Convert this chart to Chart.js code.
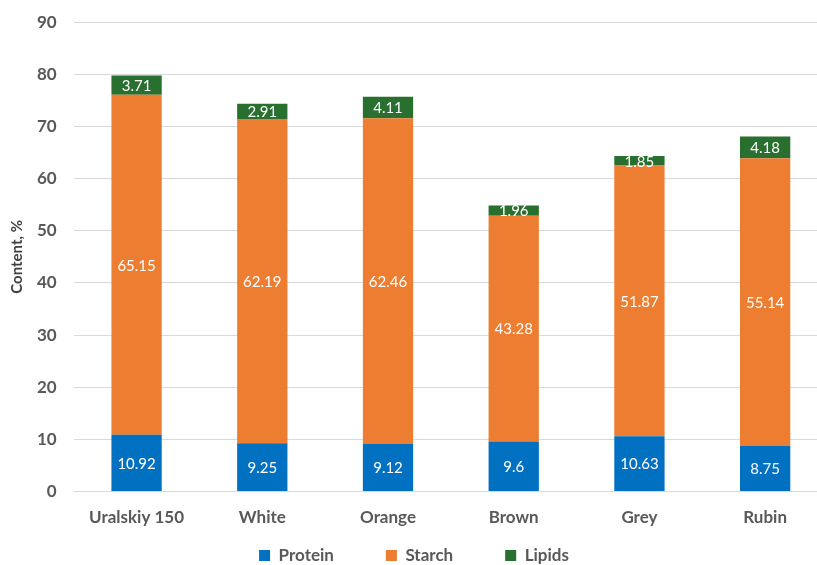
<!DOCTYPE html>
<html>
<head>
<meta charset="utf-8">
<script src="https://cdn.jsdelivr.net/npm/chart.js@4"></script>
<style>
  html, body { margin: 0; padding: 0; background: #fff; overflow: hidden; }
  #wrap { width: 828px; height: 565px; }
</style>
</head>
<body>
<div id="wrap"><canvas id="chart"></canvas></div>
<script>
// --- chart data ---
const varieties = ['Uralskiy 150', 'White', 'Orange', 'Brown', 'Grey', 'Rubin'];
const protein = [10.92, 9.25, 9.12, 9.6, 10.63, 8.75];
const starch = [65.15, 62.19, 62.46, 43.28, 51.87, 55.14];
const lipids = [3.71, 2.91, 4.11, 1.96, 1.85, 4.18];

const FONT = 'Lato, "Open Sans", sans-serif';
const GREY = '#595959';

// legend item spacing is wide, but the legend itself should stay a thin strip
const LEGEND_PAD = 52;
const LEGEND_H = 29;
const LEGEND_SHIFT = 41;

const legendStrip = {
    id: 'legendStrip',
    beforeUpdate(chart) {
        const lg = chart.legend;
        if (!lg || lg._strip) return;
        lg._strip = true;
        const fit = lg.fit;
        const draw = lg.draw;
        lg.fit = function () {
            fit.call(this);
            this.height = LEGEND_H;
        };
        lg.draw = function () {
            const top = this.top;
            this.top -= LEGEND_SHIFT;
            draw.call(this);
            this.top = top;
        };
    }
};

// white value labels in the middle of each segment
const segmentLabels = {
    id: 'segmentLabels',
    afterDatasetsDraw(chart) {
        const ctx = chart.ctx;
        ctx.save();
        ctx.fillStyle = '#fff';
        ctx.font = '15px ' + FONT;
        ctx.textAlign = 'center';
        ctx.textBaseline = 'middle';
        chart.data.datasets.forEach((ds, i) => {
            const meta = chart.getDatasetMeta(i);
            meta.data.forEach((bar, j) => {
                const y = (bar.y + bar.base) / 2;
                ctx.fillText(String(ds.data[j]), bar.x, y + 1);
            });
        });
        ctx.restore();
    }
};

new Chart(document.getElementById('chart'), {
    type: 'bar',
    data: {
        labels: varieties,
        datasets: [
            { label: 'Protein', data: protein, backgroundColor: '#0070c0' },
            { label: 'Starch', data: starch, backgroundColor: '#ed7d31' },
            { label: 'Lipids', data: lipids, backgroundColor: '#286f30' }
        ]
    },
    options: {
        responsive: true,
        maintainAspectRatio: false,
        animation: false,
        datasets: {
            bar: { barPercentage: 0.8, categoryPercentage: 0.5, borderWidth: 0 }
        },
        layout: { padding: { top: 6, left: 0, right: 0, bottom: 0 } },
        plugins: {
            tooltip: { enabled: false },
            legend: {
                position: 'bottom',
                labels: {
                    color: GREY,
                    font: { family: FONT, size: 17, weight: 'bold' },
                    boxWidth: 11,
                    boxHeight: 11,
                    padding: LEGEND_PAD
                }
            }
        },
        scales: {
            x: {
                stacked: true,
                grid: { display: false },
                border: { display: false },
                ticks: {
                    color: GREY,
                    font: { family: FONT, size: 17, weight: 'bold' },
                    padding: 8
                }
            },
            y: {
                stacked: true,
                min: 0,
                max: 90,
                grid: { color: '#d9d9d9', drawTicks: false },
                border: { display: false },
                ticks: {
                    stepSize: 10,
                    color: GREY,
                    font: { family: FONT, size: 17, weight: 'bold', lineHeight: 0.6 },
                    padding: 17
                },
                title: {
                    display: true,
                    text: 'Content, %',
                    color: '#404040',
                    font: { family: FONT, size: 15, weight: 'bold' },
                    padding: { top: 8, bottom: -6 }
                }
            }
        }
    },
    plugins: [segmentLabels, legendStrip]
});
</script>
</body>
</html>
